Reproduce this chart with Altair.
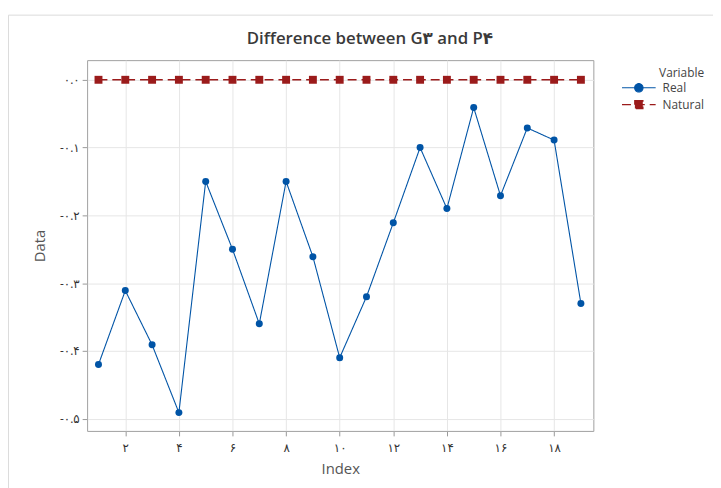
import altair as alt
import pandas as pd

# ---- data ----
index = list(range(1, 20))
real = [-0.420, -0.311, -0.391, -0.491, -0.150, -0.250, -0.360, -0.150, -0.261, -0.410,
        -0.320, -0.211, -0.100, -0.190, -0.041, -0.171, -0.071, -0.089, -0.330]
natural = [0.0] * 19
series = ["Real", "Natural"]
colors = ["#0054A6", "#9B1B1B"]

x_ticks = [2, 4, 6, 8, 10, 12, 14, 16, 18]
x_tick_labels = ["۲", "۴", "۶", "۸", "۱۰", "۱۲", "۱۴", "۱۶", "۱۸"]
y_ticks = [0.0, -0.1, -0.2, -0.3, -0.4, -0.5]
y_tick_labels = ["۰.۰", "-۰.۱", "-۰.۲", "-۰.۳", "-۰.۴", "-۰.۵"]

title_text = "Difference between G۳ and P۴"

FONT = "Segoe UI, Open Sans, DejaVu Sans, sans-serif"


def label_expr(vals, labels):
    expr = "''"
    for v, l in reversed(list(zip(vals, labels))):
        expr = f"abs(datum.value - ({v})) < 1e-6 ? '{l}' : {expr}"
    return expr


df = pd.DataFrame({
    "Index": index * 2,
    "Data": real + natural,
    "Variable": ["Real"] * len(real) + ["Natural"] * len(natural),
})

# legend glyphs: a line segment with the marker in its middle
PATH_REAL = "M-3.4,0H3.4M0.85,0A0.85,0.85,0,1,1,-0.85,0A0.85,0.85,0,1,1,0.85,0Z"
PATH_NAT = "M-3.4,0H3.4M-0.8,-0.8H0.8V0.8H-0.8Z"
dashes = [[1, 0], [9, 5]]

legend = alt.Legend(
    title="Variable", orient="none", legendX=552, legendY=8, padding=0,
    titleAnchor="end", titleFont=FONT, titleFontSize=12, titleFontWeight="normal",
    titleColor="#444", titlePadding=2,
    labelFont=FONT, labelFontSize=12, labelColor="#444", labelOffset=18,
    symbolSize=100, symbolStrokeWidth=1.5, rowPadding=3,
)

x = alt.X("Index:Q", scale=alt.Scale(domain=[0.575, 19.465], nice=False, zero=False),
          axis=alt.Axis(values=x_ticks, labelExpr=label_expr(x_ticks, x_tick_labels),
                        title="Index", titlePadding=8, labelPadding=7))
y = alt.Y("Data:Q", scale=alt.Scale(domain=[-0.518, 0.029], nice=False, zero=False),
          axis=alt.Axis(values=y_ticks, labelExpr=label_expr(y_ticks, y_tick_labels),
                        title="Data", titlePadding=12, labelPadding=3))

color = alt.Color("Variable:N", scale=alt.Scale(domain=series, range=colors), legend=legend)
dash = alt.StrokeDash("Variable:N", scale=alt.Scale(domain=series, range=dashes), legend=legend)

legend_layer = alt.Chart(df).transform_filter("false").mark_point(
    filled=True, opacity=1, size=100, strokeWidth=1.5
).encode(
    x=x, y=y, color=color,
    stroke=alt.Stroke("Variable:N", scale=alt.Scale(domain=series, range=colors), legend=legend),
    shape=alt.Shape("Variable:N", scale=alt.Scale(domain=series, range=[PATH_REAL, PATH_NAT]), legend=legend),
    strokeDash=dash,
)

lines = alt.Chart(df).mark_line().encode(
    x=x, y=y, color=color, strokeDash=dash,
    strokeWidth=alt.StrokeWidth("Variable:N", scale=alt.Scale(domain=series, range=[1.1, 1.5]), legend=None),
)

pts_real = alt.Chart(df).transform_filter("datum.Variable == 'Real'").mark_point(
    filled=True, opacity=1, shape="circle", size=50
).encode(x=x, y=y, color=color)

pts_nat = alt.Chart(df).transform_filter("datum.Variable == 'Natural'").mark_point(
    filled=True, opacity=1, shape="square", size=64
).encode(x=x, y=y, color=color)

border = alt.Chart(alt.Data(values=[{}])).mark_rect(
    fill=None, stroke="#dcdcdc", strokeWidth=1
).encode(x=alt.value(-79.5), x2=alt.value(700), y=alt.value(-45.5), y2=alt.value(500))

chart = alt.layer(border, legend_layer, lines, pts_real, pts_nat).properties(
    width=512, height=375,
    title=alt.TitleParams(title_text, fontSize=17, fontWeight=600, color="#3a3a3a", font=FONT,
                          anchor="middle", dx=30, dy=47, offset=0, baseline="alphabetic", frame="group"),
    autosize=alt.AutoSizeParams(type="none"),
    padding={"left": 80, "top": 50, "right": 121, "bottom": 55},
).configure_view(
    stroke="#a0a0a0", strokeWidth=1
).configure_axis(
    grid=True, gridColor="#e6e6e6", gridWidth=1, domain=False,
    tickColor="#999", tickSize=5, labelFont=FONT, labelFontSize=12, labelColor="#333",
    titleFont=FONT, titleFontSize=15, titleFontWeight="normal", titleColor="#555",
)

chart.save("out.html", embed_options={"renderer": "svg", "actions": False})
